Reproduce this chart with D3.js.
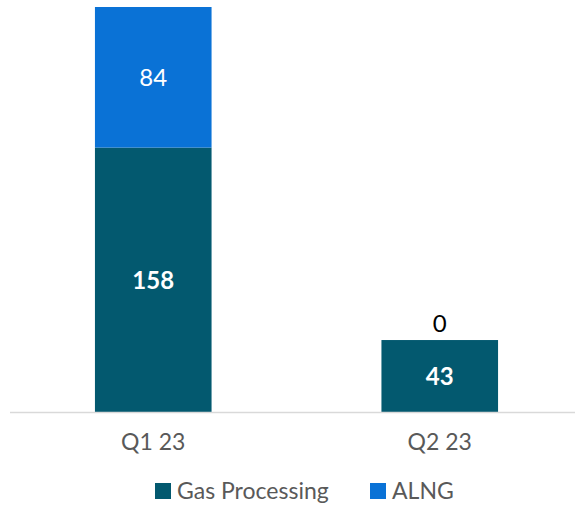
<!DOCTYPE html>
<html>
<head>
<meta charset="utf-8">
<script src="https://cdn.jsdelivr.net/npm/d3@7"></script>
<style>
  body { margin: 0; background: #fff; }
  text { font-family: Lato, "Open Sans", sans-serif; }
</style>
</head>
<body>
<script>
var width = 575;
var height = 506;

// data
var categories = ["Q1 23", "Q2 23"];
var seriesNames = ["Gas Processing", "ALNG"];
var gasProcessing = [158, 43];
var alng = [84, 0];
var seriesColors = ["#03596f", "#0a72d6"];

var svg = d3.select("body").append("svg")
    .attr("width", width)
    .attr("height", height);

var rows = categories.map(function(c, i) {
    return { cat: c, "Gas Processing": gasProcessing[i], "ALNG": alng[i] };
});
var stacked = d3.stack().keys(seriesNames)(rows);

var x = d3.scaleBand()
    .domain(categories)
    .range([10, 583])
    .paddingInner(0.593)
    .paddingOuter(0.2965);

var y = d3.scaleLinear()
    .domain([0, 242])
    .range([412, 7]);

var color = d3.scaleOrdinal().domain(seriesNames).range(seriesColors);

// bars
var layers = svg.selectAll(".layer")
    .data(stacked)
    .enter().append("g")
    .attr("class", "layer")
    .attr("fill", function(d) { return color(d.key); });

layers.selectAll("rect")
    .data(function(d) { return d; })
    .enter().append("rect")
    .attr("x", function(d) { return x(d.data.cat); })
    .attr("y", function(d) { return y(d[1]); })
    .attr("width", x.bandwidth())
    .attr("height", function(d) { return y(d[0]) - y(d[1]); });

// baseline
svg.append("line")
    .attr("x1", 10).attr("x2", 575)
    .attr("y1", 412.5).attr("y2", 412.5)
    .attr("stroke", "#d9d9d9")
    .attr("stroke-width", 1.5);

// value labels
stacked.forEach(function(layer) {
    layer.forEach(function(d) {
        var v = d[1] - d[0];
        var cx = x(d.data.cat) + x.bandwidth() / 2;
        var t = svg.append("text")
            .attr("x", cx)
            .attr("text-anchor", "middle")
            .style("font-size", "24px")
            .text(v);
        if (v === 0) {
            t.attr("y", y(d[1]) - 8).attr("fill", "#000");
        } else {
            t.attr("y", (y(d[0]) + y(d[1])) / 2 + 9)
             .attr("fill", "#fff")
             .style("font-weight", layer.key === "Gas Processing" ? "bold" : "normal");
        }
    });
});

// category axis labels
var xAxis = svg.append("g")
    .attr("transform", "translate(0,412)")
    .call(d3.axisBottom(x).tickSize(0).tickPadding(22));
xAxis.select(".domain").remove();
xAxis.selectAll("text")
    .attr("fill", "#595959")
    .style("font-size", "23px")
    .style("font-family", "Lato, 'Open Sans', sans-serif");

// legend
var legendX = [155, 370];
var legend = svg.selectAll(".legend")
    .data(seriesNames)
    .enter().append("g")
    .attr("class", "legend")
    .attr("transform", function(d, i) { return "translate(" + legendX[i] + ",483)"; });

legend.append("rect")
    .attr("width", 16).attr("height", 16)
    .attr("fill", function(d) { return color(d); });

legend.append("text")
    .attr("x", 22).attr("y", 16)
    .attr("fill", "#595959")
    .style("font-size", "23px")
    .text(function(d) { return d; });
</script>
</body>
</html>
